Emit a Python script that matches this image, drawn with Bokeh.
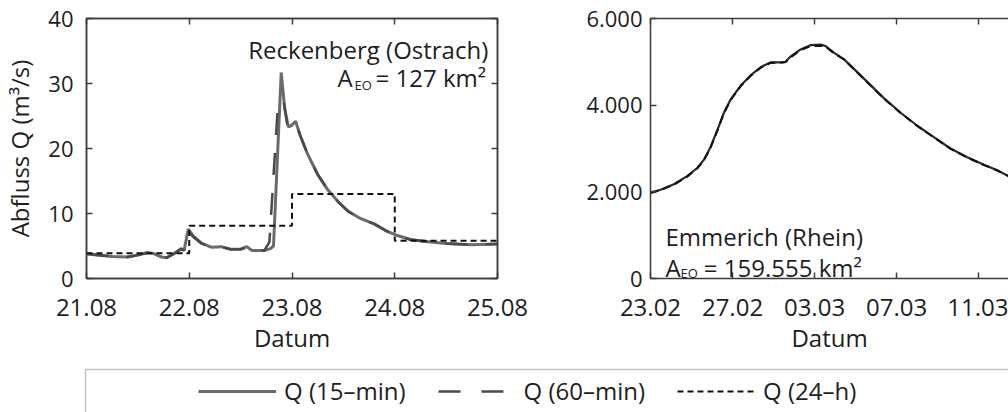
from bokeh.plotting import figure
from bokeh.layouts import row, column
from bokeh.models import (Range1d, LinearAxis, FixedTicker, CustomJSTickFormatter,
                          Label, Legend, LegendItem, BoxAnnotation, ColumnDataSource)
from bokeh.embed import file_html
from bokeh.resources import INLINE

# ---------------- data: Reckenberg (Ostrach), days since 21.08 00:00 ----------------
reck_t15 = [0.00, 0.10, 0.25, 0.40, 0.50, 0.59, 0.66, 0.73, 0.78, 0.85, 0.92, 0.95, 0.99,
            1.04, 1.12, 1.22, 1.31, 1.40, 1.50, 1.56, 1.61, 1.73, 1.79, 1.82, 1.895, 1.93,
            1.965, 2.00, 2.035, 2.08, 2.15, 2.25, 2.35, 2.45, 2.55, 2.67, 2.80, 2.92, 3.01,
            3.15, 3.30, 3.50, 3.75, 4.00]
reck_q15 = [3.8, 3.6, 3.4, 3.3, 3.6, 4.0, 3.8, 3.3, 3.2, 3.8, 4.6, 4.3, 7.6,
            6.5, 5.4, 4.8, 4.9, 4.5, 4.5, 4.9, 4.3, 4.3, 4.6, 5.0, 31.7, 26.0,
            23.3, 23.6, 24.2, 22.0, 19.2, 16.0, 13.6, 11.8, 10.3, 9.2, 8.4, 7.3, 6.7,
            6.0, 5.7, 5.4, 5.2, 5.3]
reck_t60 = [0.00, 0.10, 0.25, 0.40, 0.50, 0.59, 0.66, 0.73, 0.78, 0.85, 0.92, 0.95, 0.99,
            1.04, 1.12, 1.22, 1.31, 1.40, 1.50, 1.56, 1.61, 1.73, 1.78, 1.865, 1.92, 1.955,
            2.00, 2.035, 2.08, 2.15, 2.25, 2.35, 2.45, 2.55, 2.67, 2.80, 2.92, 3.01,
            3.15, 3.30, 3.50, 3.75, 4.00]
reck_q60 = [3.8, 3.6, 3.4, 3.3, 3.6, 3.9, 3.8, 3.3, 3.2, 3.8, 4.5, 4.4, 7.2,
            6.4, 5.4, 4.8, 4.9, 4.5, 4.5, 4.8, 4.3, 4.3, 5.6, 27.2, 27.2, 23.6,
            23.6, 24.0, 22.0, 19.2, 16.0, 13.6, 11.8, 10.3, 9.2, 8.4, 7.3, 6.7,
            6.0, 5.7, 5.4, 5.2, 5.3]
reck_day_start = [0, 1, 2, 3]
reck_q24 = [3.9, 8.1, 13.0, 5.8]
reck_ticks = [0, 1, 2, 3, 4]
reck_labels = ["21.08", "22.08", "23.08", "24.08", "25.08"]
reck_yticks = [0, 10, 20, 30, 40]

# ---------------- data: Emmerich (Rhein), days since 23.02 00:00 ----------------
emm_t = [0.0, 0.49, 1.14, 1.79, 2.28, 2.60, 2.93, 3.25, 3.58, 3.90, 4.39, 4.88, 5.37,
         5.85, 6.34, 6.59, 6.83, 7.32, 7.80, 8.29, 8.54, 8.94, 9.43, 9.92, 10.57, 11.38,
         12.20, 13.01, 13.82, 14.63, 15.45, 16.26, 16.91, 17.46, 18.0]
emm_q15 = [1980, 2047, 2175, 2362, 2550, 2737, 3037, 3412, 3825, 4125, 4447, 4687, 4875,
           4987, 4987, 5000, 5122, 5287, 5385, 5400, 5362, 5212, 5062, 4837, 4537, 4162,
           3825, 3525, 3262, 3000, 2797, 2625, 2497, 2362, 2320]
emm_q60 = [1975, 2040, 2165, 2350, 2540, 2725, 3020, 3400, 3810, 4110, 4435, 4675, 4860,
           4975, 4980, 4995, 5105, 5270, 5360, 5370, 5350, 5200, 5055, 4830, 4530, 4155,
           3820, 3520, 3255, 2995, 2790, 2620, 2492, 2360, 2318]
emm_ticks = [0, 4, 8, 12, 16]
emm_labels = ["23.02", "27.02", "03.03", "07.03", "11.03"]
emm_yticks = [0, 2000, 4000, 6000]
emm_ylabels = ["0", "2.000", "4.000", "6.000"]

series_names = ["Q (15\u2013min)", "Q (60\u2013min)", "Q (24\u2013h)"]

FONT = "Open Sans"
TXT = "#1e1e1e"
AX = "#3c3c3c"
C15 = "#6a6a6a"
C60 = "#4a4a4a"
C24 = "#111111"
NAN = float("nan")


def step_xy(starts, vals, end):
    xs, ys = [], []
    for i, v in enumerate(vals):
        x0 = starts[i]
        x1 = starts[i + 1] if i + 1 < len(starts) else end
        xs += [x0, x1]
        ys += [v, v]
    return xs, ys


def style_axis(ax, size="22px"):
    ax.axis_line_color = AX
    ax.axis_line_width = 1.5
    ax.major_tick_line_color = AX
    ax.major_tick_line_width = 1.5
    ax.major_tick_in = 6
    ax.major_tick_out = 0
    ax.minor_tick_line_color = None
    ax.major_label_text_font = FONT
    ax.major_label_text_font_size = size
    ax.major_label_text_color = TXT
    ax.axis_label_text_font = FONT
    ax.axis_label_text_font_size = "24px"
    ax.axis_label_text_font_style = "normal"
    ax.axis_label_text_color = TXT


def blank_axis(ticks):
    a = LinearAxis(ticker=FixedTicker(ticks=ticks),
                   formatter=CustomJSTickFormatter(code="return ''"))
    style_axis(a, "0px")
    a.major_label_standoff = 0
    a.axis_label_standoff = 0
    return a


TOP = 18
BOTTOM = 71
PH = 356

# ---------------- left plot ----------------
p1 = figure(width=548, height=PH, output_backend="svg", toolbar_location=None,
            x_range=Range1d(0, 4), y_range=Range1d(0, 40),
            min_border_left=86, min_border_right=51, min_border_top=TOP,
            min_border_bottom=BOTTOM)
p1.grid.visible = False
p1.outline_line_color = AX
p1.outline_line_width = 1.5
p1.xaxis.ticker = FixedTicker(ticks=reck_ticks)
p1.xaxis.major_label_overrides = {t: l for t, l in zip(reck_ticks, reck_labels)}
p1.xaxis.axis_label = "Datum"
p1.yaxis.ticker = FixedTicker(ticks=reck_yticks)
p1.yaxis.axis_label = "Abfluss Q (m\u00b3/s)"
style_axis(p1.xaxis[0], "24px")
style_axis(p1.yaxis[0], "22px")
p1.xaxis.major_label_standoff = 20
p1.xaxis.axis_label_standoff = 2
p1.yaxis.major_label_standoff = 13
p1.yaxis.axis_label_standoff = 9
p1.add_layout(blank_axis(reck_ticks), "above")
p1.add_layout(blank_axis(reck_yticks), "right")

p1.line(reck_t15, reck_q15, line_color=C15, line_width=3)
p1.line(reck_t60, reck_q60, line_color=C60, line_width=2.5, line_dash="22 18")
sx, sy = step_xy(reck_day_start, reck_q24, 4)
p1.line(sx, sy, line_color=C24, line_width=2, line_dash="6 4")

p1.add_layout(Label(x=3.91, y=35.2, text="Reckenberg (Ostrach)", text_align="right",
                    text_baseline="alphabetic", text_font=FONT, text_font_size="24px",
                    text_color=TXT))
p1.add_layout(Label(x=2.443, y=30.86, text="A", text_baseline="alphabetic",
                    text_font=FONT, text_font_size="24px", text_color=TXT))
p1.add_layout(Label(x=2.608, y=29.8, text="EO", text_baseline="alphabetic",
                    text_font=FONT, text_font_size="13px", text_color=TXT))
p1.add_layout(Label(x=2.813, y=30.86, text="= 127 km\u00b2", text_baseline="alphabetic",
                    text_font=FONT, text_font_size="24px", text_color=TXT))

# ---------------- right plot ----------------
p2 = figure(width=460, height=PH, output_backend="svg", toolbar_location=None,
            x_range=Range1d(0, 17.46), y_range=Range1d(0, 6000),
            min_border_left=102, min_border_right=0, min_border_top=TOP,
            min_border_bottom=BOTTOM)
p2.grid.visible = False
p2.outline_line_color = None
p2.xaxis.ticker = FixedTicker(ticks=emm_ticks)
p2.xaxis.major_label_overrides = {t: l for t, l in zip(emm_ticks, emm_labels)}
p2.xaxis.axis_label = "Datum"
p2.yaxis.ticker = FixedTicker(ticks=emm_yticks)
p2.yaxis.major_label_overrides = {t: l for t, l in zip(emm_yticks, emm_ylabels)}
style_axis(p2.xaxis[0], "24px")
style_axis(p2.yaxis[0], "22px")
p2.xaxis.major_label_standoff = 20
p2.xaxis.axis_label_standoff = 2
p2.yaxis.major_label_standoff = 8
p2.add_layout(blank_axis(emm_ticks), "above")

p2.line(emm_t, emm_q15, line_color="#2a2a2a", line_width=2.2)
p2.line(emm_t, emm_q60, line_color="#111111", line_width=2, line_dash="8 5")

p2.add_layout(Label(x=0.73, y=966, text="Emmerich (Rhein)", text_baseline="alphabetic",
                    text_font=FONT, text_font_size="24px", text_color=TXT))
p2.add_layout(Label(x=0.73, y=247, text="A", text_baseline="alphabetic",
                    text_font=FONT, text_font_size="24px", text_color=TXT))
p2.add_layout(Label(x=1.46, y=128, text="EO", text_baseline="alphabetic",
                    text_font=FONT, text_font_size="13px", text_color=TXT))
p2.add_layout(Label(x=2.6, y=247, text="= 159.555 km\u00b2", text_baseline="alphabetic",
                    text_font=FONT, text_font_size="24px", text_color=TXT))

# ---------------- legend strip ----------------
LH = 412 - PH
pl = figure(width=1008, height=LH, output_backend="svg", toolbar_location=None,
            x_range=Range1d(0, 1008), y_range=Range1d(0, LH),
            min_border=0, min_border_left=0, min_border_right=0,
            min_border_top=0, min_border_bottom=0)
pl.axis.visible = False
pl.grid.visible = False
pl.outline_line_color = None
pl.add_layout(BoxAnnotation(left=85, right=1200, top=LH - 13, bottom=-40,
                            fill_color=None, fill_alpha=0,
                            line_color=AX, line_width=1.5))
placeholder = ColumnDataSource(data=dict(x=[NAN], y=[NAN]))
r15 = pl.line("x", "y", source=placeholder, line_color=C15, line_width=3)
r60 = pl.line("x", "y", source=placeholder, line_color=C60, line_width=2.5, line_dash="22 21")
r24 = pl.line("x", "y", source=placeholder, line_color=C24, line_width=2, line_dash="6 4")
leg = Legend(items=[LegendItem(label=series_names[0], renderers=[r15]),
                    LegendItem(label=series_names[1], renderers=[r60]),
                    LegendItem(label=series_names[2], renderers=[r24])],
             orientation="horizontal", location=(198, 5),
             glyph_width=78, label_standoff=8, spacing=32, padding=0, margin=0,
             border_line_color=None, background_fill_alpha=0,
             label_text_font=FONT, label_text_font_size="24px", label_text_color=TXT)
pl.add_layout(leg, "center")

layout = column(row(p1, p2), pl)
open("out.html", "w").write(file_html(layout, INLINE))
